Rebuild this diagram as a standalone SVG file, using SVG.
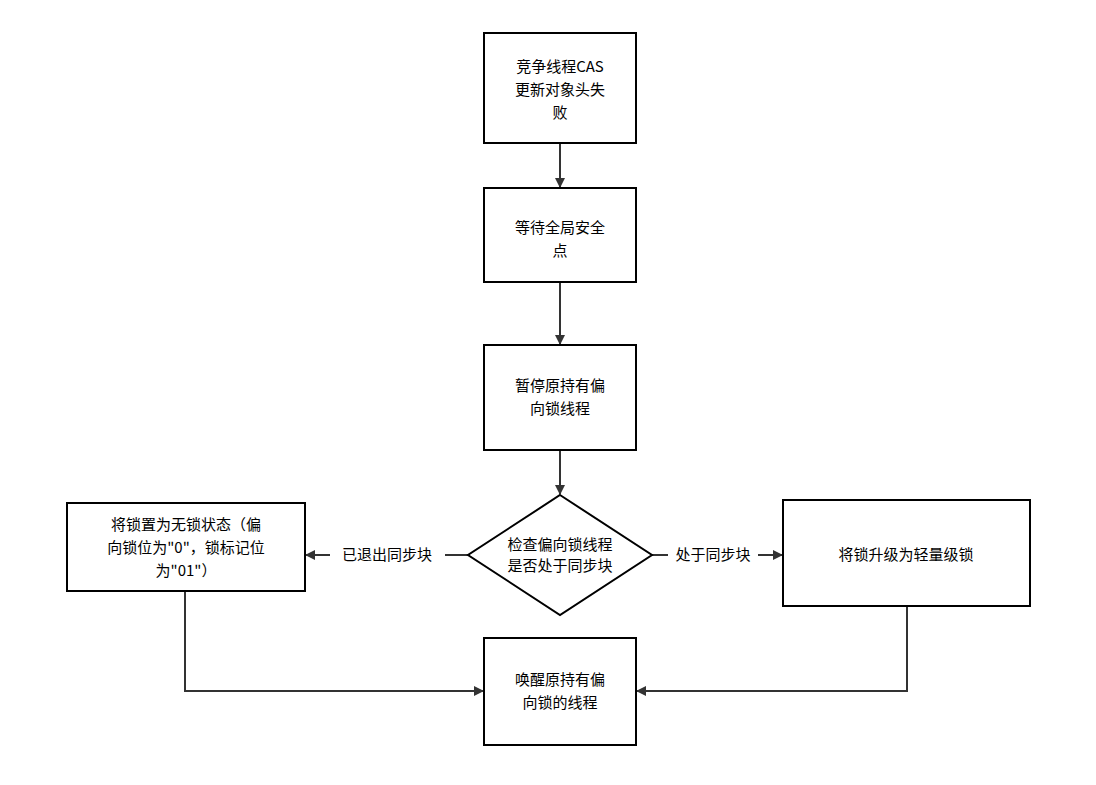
<svg xmlns="http://www.w3.org/2000/svg" width="1096" height="785" viewBox="0 0 1096 785">
<style>
.n{fill:#fff;stroke:#000;stroke-width:2}
.c{fill:none;stroke:#333;stroke-width:2}
text{font-family:"Noto Sans CJK SC","Liberation Sans",sans-serif;font-size:15px;fill:#000;text-anchor:middle}
.lb{fill:#fff}
</style>
<defs><marker id="a" markerWidth="10" markerHeight="10" refX="9" refY="5" orient="auto" markerUnits="userSpaceOnUse"><path d="M0,0 L10,5 L0,10 z" fill="#333"/></marker></defs>
<rect width="1096" height="785" fill="#fff"/>
<g id="connectors">
<line class="c" x1="560" y1="143" x2="560" y2="187" marker-end="url(#a)"/>
<line class="c" x1="560" y1="282" x2="560" y2="344" marker-end="url(#a)"/>
<line class="c" x1="560" y1="450" x2="560" y2="494" marker-end="url(#a)"/>
<line class="c" x1="468" y1="555" x2="306" y2="555" marker-end="url(#a)"/>
<line class="c" x1="652" y1="555" x2="782" y2="555" marker-end="url(#a)"/>
<polyline class="c" points="185,591 185,691 483,691" marker-end="url(#a)"/>
<polyline class="c" points="907,606 907,691 637,691" marker-end="url(#a)"/>
<rect class="lb" x="330" y="544" width="115" height="22"/>
<text x="387" y="560">已退出同步块</text>
<rect class="lb" x="668" y="544" width="90" height="22"/>
<text x="713" y="560">处于同步块</text>
</g>
<g id="n1"><rect class="n" x="484" y="33" width="152" height="110"/><text x="560" y="72">竞争线程CAS</text><text x="560" y="95">更新对象头失</text><text x="560" y="118">败</text></g>
<g id="n2"><rect class="n" x="484" y="188" width="152" height="94"/><text x="560" y="233">等待全局安全</text><text x="560" y="256">点</text></g>
<g id="n3"><rect class="n" x="484" y="345" width="152" height="105"/><text x="560" y="391">暂停原持有偏</text><text x="560" y="414">向锁线程</text></g>
<g id="n4"><polygon class="n" points="560,495 652,555 560,615 468,555"/><text x="560" y="550">检查偏向锁线程</text><text x="560" y="571">是否处于同步块</text></g>
<g id="n5"><rect class="n" x="67" y="503" width="238" height="88"/><text x="186" y="530">将锁置为无锁状态（偏</text><text x="186" y="553">向锁位为"0"，锁标记位</text><text x="186" y="576">为"01"）</text></g>
<g id="n6"><rect class="n" x="783" y="500" width="247" height="106"/><text x="906" y="560">将锁升级为轻量级锁</text></g>
<g id="n7"><rect class="n" x="484" y="638" width="152" height="107"/><text x="560" y="685">唤醒原持有偏</text><text x="560" y="708">向锁的线程</text></g>
</svg>
